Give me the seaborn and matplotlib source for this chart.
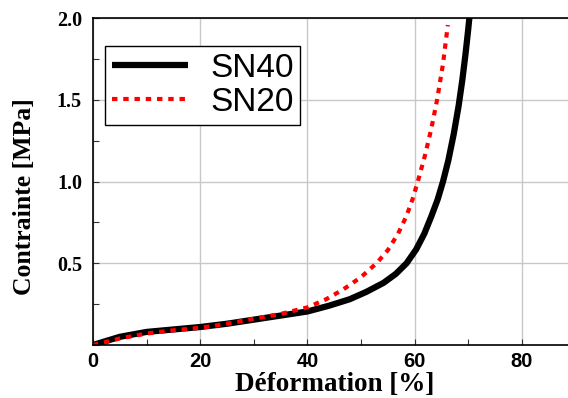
import matplotlib
matplotlib.use("Agg")
import matplotlib.pyplot as plt
import seaborn as sns
import pandas as pd
from matplotlib.ticker import MultipleLocator, FixedLocator

# ---- data ----
sn40_x = [0, 2, 5, 10, 15, 20, 25, 30, 35, 40, 44, 47.9, 51, 54.2, 56.5, 58.5,
          60.3, 61.8, 63.1, 64.3, 65.3, 66.3, 67.3, 68.2, 68.9, 69.5, 70.0, 70.4]
sn40_y = [0, 0.02, 0.05, 0.08, 0.095, 0.11, 0.13, 0.155, 0.18, 0.205, 0.24, 0.28,
          0.325, 0.38, 0.435, 0.50, 0.585, 0.68, 0.785, 0.89, 1.0, 1.13, 1.29,
          1.46, 1.62, 1.78, 1.93, 2.06]
sn20_x = [0, 2, 5, 10, 15, 20, 25, 30, 35, 40, 43.5, 46.7, 50, 52.9, 55, 56.9,
          58.5, 59.6, 60.6, 61.9, 63.1, 64.2, 65.3, 66.2]
sn20_y = [0, 0.015, 0.04, 0.07, 0.09, 0.105, 0.13, 0.16, 0.19, 0.23, 0.28, 0.34,
          0.415, 0.50, 0.58, 0.68, 0.79, 0.89, 1.0, 1.155, 1.32, 1.5, 1.72, 1.957]
x_ticks = [0, 20, 40, 60, 80]
y_ticks = [0.5, 1.0, 1.5, 2.0]
x_label = "Déformation [%]"
y_label = "Contrainte [MPa]"
series_names = ["SN40", "SN20"]

df40 = pd.DataFrame({"x": sn40_x, "y": sn40_y})
df20 = pd.DataFrame({"x": sn20_x, "y": sn20_y})

sns.set_theme(style="white")
W, H = 568, 398
fig = plt.figure(figsize=(W / 100, H / 100), dpi=100)
ax = fig.add_axes([93 / W, (H - 345) / H, 475 / W, 327 / H])

sns.lineplot(data=df40, x="x", y="y", ax=ax, sort=False, color="black",
             linewidth=4.5, label=series_names[0], solid_capstyle="butt",
             solid_joinstyle="round")
sns.lineplot(data=df20, x="x", y="y", ax=ax, sort=False, color="#ff0000",
             linewidth=3.0, label=series_names[1])
ax.lines[1].set_dashes([1.3, 1.4])
ax.lines[1].set_dash_capstyle("butt")

ax.set_xlim(0, 475 / 5.36)
ax.set_ylim(0, 2.0)

ax.xaxis.set_major_locator(FixedLocator(x_ticks))
ax.yaxis.set_major_locator(FixedLocator(y_ticks))
ax.xaxis.set_minor_locator(MultipleLocator(10))
ax.yaxis.set_minor_locator(MultipleLocator(0.25))
ax.grid(True, which="major", color="#c8c8c8", linewidth=1.0)
ax.set_axisbelow(True)

for s in ["left", "bottom", "top"]:
    ax.spines[s].set_visible(True)
    ax.spines[s].set_color("black")
    ax.spines[s].set_linewidth(1.2)
ax.spines["right"].set_visible(False)

ax.tick_params(axis="both", which="both", direction="in", length=4, width=0.8,
               color="#333333", left=True, bottom=True, top=False, right=False)
ax.tick_params(axis="y", which="major", pad=8)
ax.tick_params(axis="x", which="major", pad=5)

for t in ax.get_xticklabels():
    t.set_fontfamily("Liberation Sans")
    t.set_fontweight("bold")
    t.set_fontsize(14.5)
    t.set_color("black")
for t in ax.get_yticklabels():
    t.set_fontfamily("Liberation Serif")
    t.set_fontweight("bold")
    t.set_fontsize(14.5)
    t.set_color("black")

ax.set_xlabel(x_label, fontfamily="Liberation Serif", fontweight="bold",
              fontsize=19.5, color="black")
ax.set_ylabel(y_label, fontfamily="Liberation Serif", fontweight="bold",
              fontsize=18.5, color="black")
ax.xaxis.set_label_coords((335 - 93) / 475, (345 - 372) / 327)
ax.yaxis.set_label_coords((36 - 93) / 475, (345 - 197) / 327)

leg = ax.legend(loc="upper left", bbox_to_anchor=((105 - 93) / 475, (345 - 46) / 327),
                prop={"family": "Liberation Sans", "size": 24},
                frameon=True, fancybox=False, framealpha=1, edgecolor="black",
                handlelength=2.3, handletextpad=0.65, labelspacing=0.1,
                borderpad=0.2, borderaxespad=0)
leg.get_frame().set_linewidth(1.0)
for t in leg.get_texts():
    t.set_color("black")

fig.savefig("out.png", dpi=100)
